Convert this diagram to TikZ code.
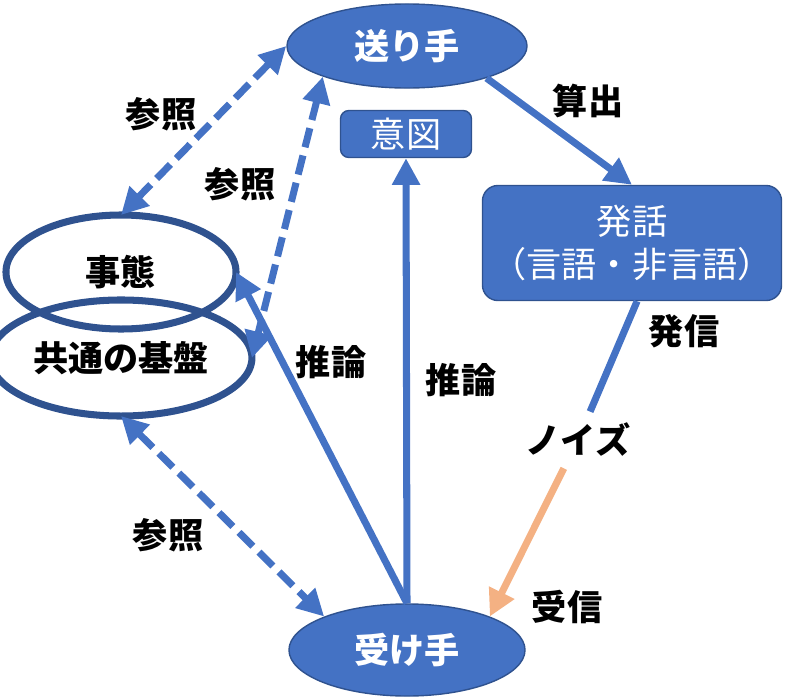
\documentclass[tikz,border=0pt]{standalone}
\usepackage{fontspec}
\setmainfont{Noto Sans CJK JP}
\usetikzlibrary{arrows.meta, shapes.geometric}
\definecolor{boxblue}{HTML}{4472C4}
\definecolor{edgeblue}{HTML}{2F528F}
\definecolor{noiseorange}{HTML}{F4B183}

\begin{document}
\begin{tikzpicture}[x=0.025cm, y=-0.025cm,
  >={Triangle[length=19pt, width=19pt]},
  bigfont/.style={font=\fontsize{25}{31}\selectfont},
  note/.style={bigfont, font=\fontsize{25}{31}\selectfont\bfseries, text=black},
  actor/.style={ellipse, fill=boxblue, draw=edgeblue, line width=1pt,
    text=white, font=\fontsize{25}{31}\selectfont\bfseries},
  bluebox/.style={rectangle, fill=boxblue, draw=edgeblue, line width=1pt,
    text=white, font=\fontsize{25}{31}\selectfont},
  ground/.style={ellipse, draw=edgeblue, line width=5pt, outer sep=0pt,
    font=\fontsize{25}{31}\selectfont\bfseries},
  flow/.style={boxblue, line width=5pt},
  refline/.style={boxblue, line width=5pt, dash pattern=on 14pt off 6pt}]

\useasboundingbox (0,0) rectangle (812,698);

% ---------- sender / receiver ----------
\node[actor, minimum width=6cm, minimum height=2.1cm] (sender) at (407,46) {送り手};
\node[actor, minimum width=5.9cm, minimum height=2.3cm] (receiver) at (407,650) {受け手};

% ---------- boxes ----------
\node[bluebox, minimum width=3.275cm, minimum height=1.175cm, rounded corners=6pt]
  (intent) at (406,134) {意図};
\node[bluebox, minimum width=7.475cm, minimum height=2.875cm, rounded corners=11pt,
  align=center] (utter) at (632,243) {発話\\（言語・非言語）};

% ---------- situation and common ground ----------
\node[ground, minimum width=5.75cm, minimum height=2.85cm] (event) at (121,272) {事態};
\node[ground, minimum width=5.8cm, minimum height=2.9cm] (base) at (121,358) {共通の基盤};

% ---------- noise ----------
\node[note, inner sep=8pt] (noise) at (578,440) {ノイズ};

% ---------- solid flows ----------
\draw[flow,->] (sender.338) -- (utter.north);
\draw[flow,->] (receiver.north) -- (intent.south);
\draw[flow,->] (receiver.north) -- (event.east);
\draw[flow] (utter.275) -- (noise);
\draw[flow,noiseorange,->] (noise) -- (receiver.22);

% ---------- references (dashed) ----------
\draw[refline,<->] (sender.west) -- (event.north);
\draw[refline,<->] (sender.200) -- (base.east);
\draw[refline,<->] (base.south) -- (receiver.158);

% ---------- labels ----------
\node[note] (refA) at (161,114) {参照};
\node[note] (refB) at (240,184) {参照};
\node[note] (refC) at (168,535) {参照};
\node[note] (inferA) at (331,362) {推論};
\node[note] (inferB) at (461,380) {推論};
\node[note] (calc) at (588,101) {算出};
\node[note] (send) at (684,331) {発信};
\node[note] (recv) at (567,607) {受信};

\end{tikzpicture}
\end{document}
